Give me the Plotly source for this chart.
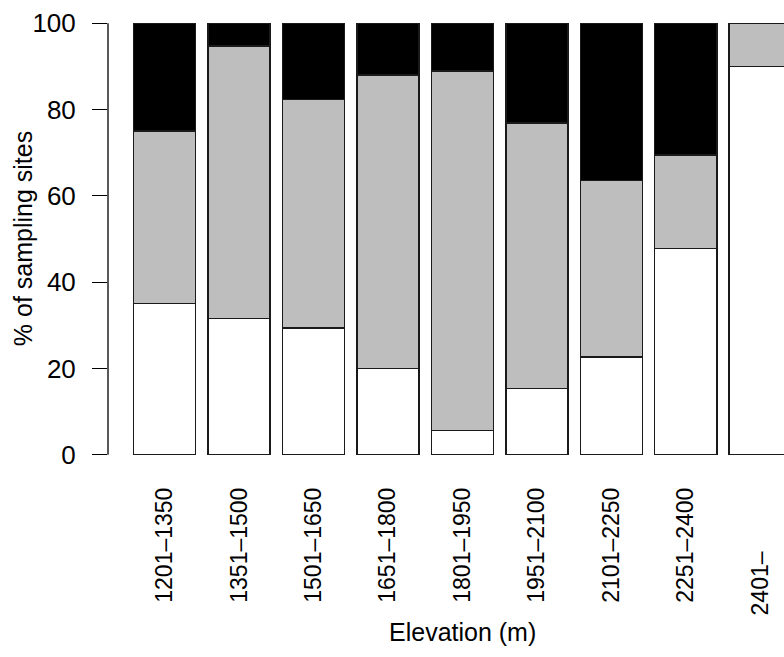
import plotly.graph_objects as go

# Elevation bands and share of sampling sites (%) in each class
elevation_bands = ["1201–1350", "1351–1500", "1501–1650", "1651–1800", "1801–1950",
                   "1951–2100", "2101–2250", "2251–2400", "2401–"]
white_pct = [35.0, 31.6, 29.4, 20.0, 5.6, 15.4, 22.7, 47.8, 90.0]
gray_pct = [40.0, 63.1, 52.9, 68.0, 83.3, 61.5, 40.9, 21.7, 10.0]
black_pct = [25.0, 5.3, 17.7, 12.0, 11.1, 23.1, 36.4, 30.5, 0.0]
y_ticks = [0, 20, 40, 60, 80, 100]

FONT = "Liberation Sans, Arial, Helvetica, sans-serif"
FS_Y = 26      # y tick labels
FS_X = 23      # x tick labels
FS_T = 25      # axis titles

# bar centres as in a base-R barplot (width 1, space 0.2)
xpos = [0.7 + 1.2 * i for i in range(len(elevation_bands))]
tick_text = elevation_bands[:-1] + [elevation_bands[-1] + "\u00a0" * 10]

fig = go.Figure()
for vals, col in [(white_pct, "white"), (gray_pct, "#BEBEBE"), (black_pct, "black")]:
    fig.add_trace(go.Bar(
        x=xpos, y=vals, width=1.0,
        marker=dict(color=col, line=dict(color="#1a1a1a", width=1.5)),
        showlegend=False, hoverinfo="skip",
    ))

W, H = 784, 657
left = 108.3
unit = 62.0
x0 = 0.2 - (134.0 - left) / unit
x1 = x0 + (W - left) / unit
ppu = (455.0 - 23.3) / 100.0
top = 23.3 - 4 * ppu
bottom = 455.0 + 4 * ppu

fig.update_layout(
    barmode="stack",
    width=W, height=H,
    margin=dict(l=left, r=0, t=top, b=H - bottom, pad=0),
    paper_bgcolor="white", plot_bgcolor="white",
    font=dict(family=FONT, size=FS_T, color="black"),
    xaxis=dict(
        range=[x0, x1], tickmode="array", tickvals=xpos, ticktext=tick_text,
        tickangle=-90, ticks="", showline=False, showgrid=False, zeroline=False,
        ticklabelstandoff=10,
        tickfont=dict(family=FONT, size=FS_X, color="black"),
    ),
    yaxis=dict(
        range=[-4, 104], tickmode="array", tickvals=y_ticks,
        ticks="outside", ticklen=15, tickwidth=1.3, tickcolor="black",
        showline=False, showgrid=False, zeroline=False,
        ticklabelstandoff=11,
        tickfont=dict(family=FONT, size=FS_Y, color="black"),
    ),
    shapes=[dict(type="line", xref="paper", yref="y", x0=0, x1=0, y0=0, y1=100,
                 line=dict(color="black", width=1.3))],
    annotations=[
        dict(text="% of sampling sites", xref="paper", yref="y", x=0, y=50,
             xanchor="center", yanchor="middle", xshift=23.5 - left, textangle=-90,
             showarrow=False, font=dict(family=FONT, size=FS_T, color="black")),
        dict(text="Elevation (m)", xref="x", yref="paper", x=5.5, y=0,
             xanchor="center", yanchor="middle", yshift=-(632 - bottom),
             showarrow=False, font=dict(family=FONT, size=FS_T, color="black")),
    ],
)

fig.write_html("out.html")
